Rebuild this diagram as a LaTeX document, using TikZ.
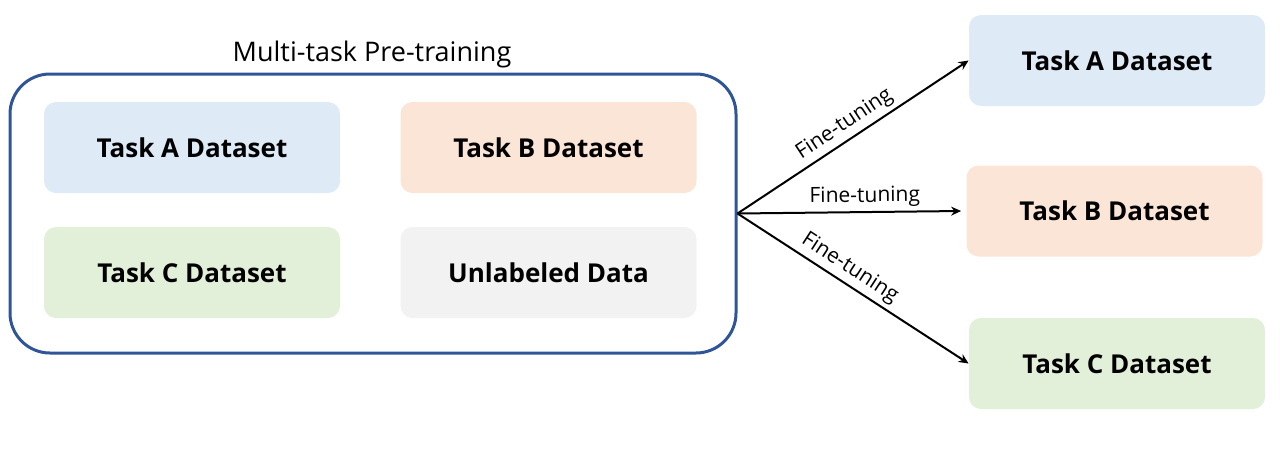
\documentclass[tikz,border=0pt]{standalone}
\usepackage{fontspec}
\setmainfont{Open Sans}
\usetikzlibrary{positioning,arrows.meta}

\definecolor{frameblue}{HTML}{2F5597}
\definecolor{fillA}{HTML}{DEEBF7}
\definecolor{fillB}{HTML}{FBE5D6}
\definecolor{fillC}{HTML}{E2F0D9}
\definecolor{fillU}{HTML}{F2F2F2}

\begin{document}
\begin{tikzpicture}
[x=0.5pt, y=-0.5pt,
 data/.style={shape=rectangle, rounded corners=6pt, minimum width=148pt,
   minimum height=45.5pt, font=\bfseries\fontsize{13}{15}\selectfont},
 frame/.style={shape=rectangle, rounded corners=20pt, draw=frameblue,
   line width=1.5pt, minimum width=363pt, minimum height=139.5pt},
 tune/.style={-{Stealth[length=5pt,width=4.5pt]}, line width=1pt},
 tunelabel/.style={font=\fontsize{10.5}{12}\selectfont, sloped, above, inner sep=2pt}]
\useasboundingbox (0,0) rectangle (1280,451);
% pre-training block
\node[frame] (pre) at (373,213.5) {};
\node[font=\fontsize{13.5}{16}\selectfont] (title) at (372,54) {Multi-task Pre-training};
\node[data, fill=fillA] (preA) at (192,147.5) {Task A Dataset};
\node[data, fill=fillB] (preB) at (548.5,147.5) {Task B Dataset};
\node[data, fill=fillC] (preC) at (192,272.5) {Task C Dataset};
\node[data, fill=fillU] (unlab) at (548.5,272.5) {Unlabeled Data};
% downstream tasks
\node[data, fill=fillA] (ftA) at (1117,60.5) {Task A Dataset};
\node[data, fill=fillB] (ftB) at (1114.5,211) {Task B Dataset};
\node[data, fill=fillC] (ftC) at (1117,363.5) {Task C Dataset};
\draw[tune] (pre.east) -- node[tunelabel, pos=0.5] (lblA) {Fine-tuning} (ftA.west);
\draw[tune] (pre.east) -- node[tunelabel, pos=0.57] (lblB) {Fine-tuning} ([xshift=-2.5pt]ftB.west);
\draw[tune] (pre.east) -- node[tunelabel, pos=0.45] (lblC) {Fine-tuning} (ftC.west);
\end{tikzpicture}
\end{document}
